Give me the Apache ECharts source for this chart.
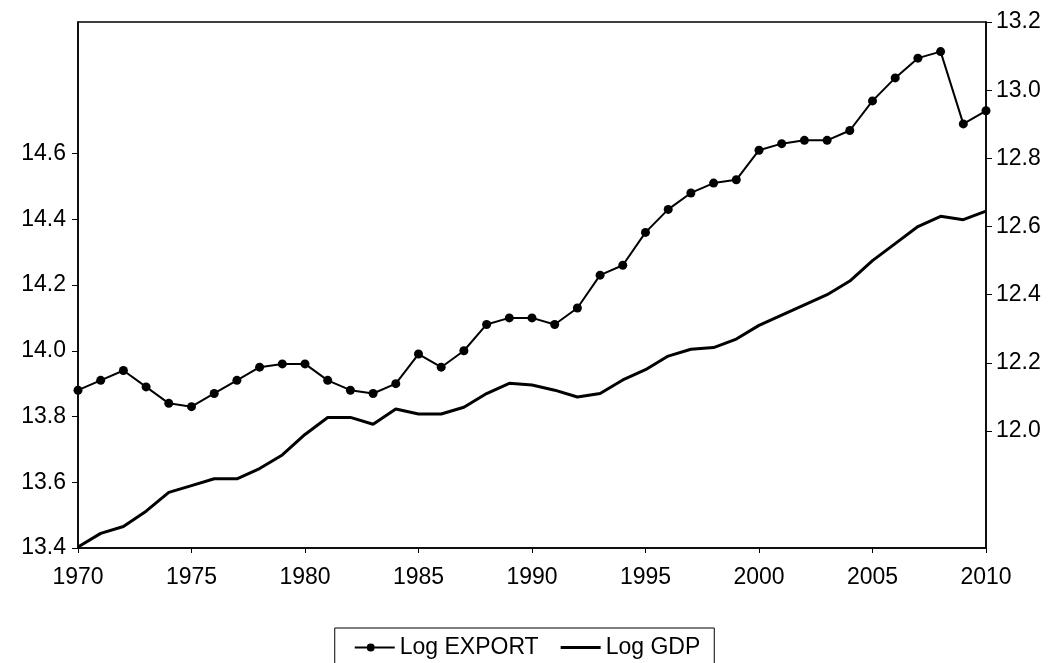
<!DOCTYPE html>
<html><head><meta charset="utf-8">
<script src="https://cdn.jsdelivr.net/npm/echarts@6/dist/echarts.min.js"></script>
<style>html,body{margin:0;padding:0;background:#fff}#c{width:1055px;height:663px}</style>
</head><body><div id="c"></div>
<script>
const years = [];
for (let y = 1970; y <= 2010; y++) years.push(y);
const logExport = [13.88,13.91,13.94,13.89,13.84,13.83,13.87,13.91,13.95,13.96,13.96,13.91,13.88,13.87,13.90,13.99,13.95,14.00,14.08,14.10,14.10,14.08,14.13,14.23,14.26,14.36,14.43,14.48,14.51,14.52,14.61,14.63,14.64,14.64,14.67,14.76,14.83,14.89,14.91,14.69,14.73];
const logGDP = [11.66,11.70,11.72,11.765,11.82,11.84,11.86,11.86,11.89,11.93,11.99,12.04,12.04,12.02,12.065,12.05,12.05,12.07,12.11,12.14,12.135,12.12,12.10,12.11,12.15,12.18,12.22,12.24,12.245,12.27,12.31,12.34,12.37,12.40,12.44,12.50,12.55,12.60,12.63,12.62,12.645];
const leftLabels = [13.4,13.6,13.8,14.0,14.2,14.4,14.6];
const rightLabels = [12.0,12.2,12.4,12.6,12.8,13.0,13.2];
const xLabels = [1970,1975,1980,1985,1990,1995,2000,2005,2010];

const font = 'Liberation Sans, Arial, sans-serif';
const chart = echarts.init(document.getElementById('c'));
chart.setOption({
  animation:false,
  grid:{left:78,right:69,top:22,bottom:115,show:true,borderColor:'#000',borderWidth:1.5},
  legend:{bottom:-4,left:'center',itemGap:22,padding:[8,14,8,20],borderColor:'#000',borderWidth:1,
    itemWidth:40,itemHeight:14,textStyle:{fontFamily:font,fontSize:23,color:'#000'},
    data:[{name:'Log EXPORT',icon:'path://M0,6H12V8H0Z M20,6H40V8H20Z M16,3A4,4 0 1,1 15.99,3Z'},{name:'Log GDP',icon:'path://M0,5.5H40V8.5H0Z'}]},
  xAxis:{type:'value',min:1970,max:2010,
    axisLine:{lineStyle:{color:'#000',width:1.5}},
    axisTick:{customValues:xLabels,length:5,lineStyle:{color:'#000'}},
    axisLabel:{customValues:xLabels,fontFamily:font,fontSize:23,color:'#000',margin:18,formatter:v=>String(v)},
    splitLine:{show:false}},
  yAxis:[
    {type:'value',min:13.4,max:15.0,position:'left',
     axisLine:{show:true,lineStyle:{color:'#000',width:1.5}},
     axisTick:{show:true,customValues:leftLabels,length:6,lineStyle:{color:'#000'}},
     axisLabel:{customValues:leftLabels,fontFamily:font,fontSize:23,color:'#000',margin:12,formatter:v=>v.toFixed(1)},
     splitLine:{show:false}},
    {type:'value',min:11.657,max:13.2,position:'right',
     axisLine:{show:true,lineStyle:{color:'#000',width:1.5}},
     axisTick:{show:true,customValues:rightLabels,length:6,lineStyle:{color:'#000'}},
     axisLabel:{customValues:rightLabels,fontFamily:font,fontSize:23,color:'#000',margin:10,formatter:v=>v.toFixed(1)},
     splitLine:{show:false}}
  ],
  series:[
    {name:'Log EXPORT',type:'line',yAxisIndex:0,data:years.map((y,i)=>[y,logExport[i]]),
     symbol:'circle',symbolSize:9,showAllSymbol:true,color:'#000',lineStyle:{color:'#000',width:2},itemStyle:{color:'#000'}},
    {name:'Log GDP',type:'line',yAxisIndex:1,data:years.map((y,i)=>[y,logGDP[i]]),
     symbol:'none',color:'#000',lineStyle:{color:'#000',width:3}}
  ]
});
</script></body></html>
